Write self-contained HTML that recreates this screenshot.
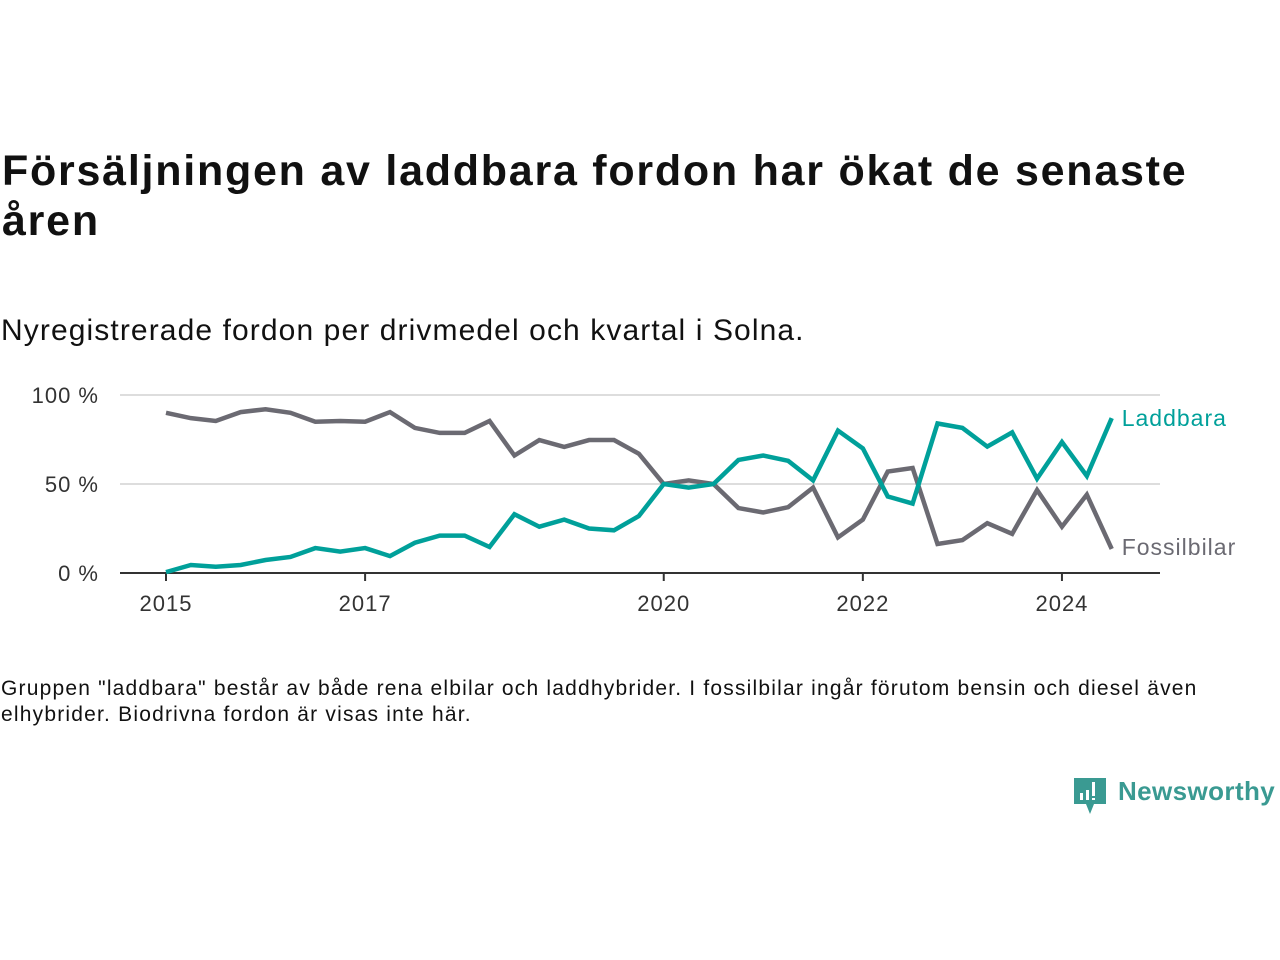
<!DOCTYPE html>
<html><head><meta charset="utf-8">
<style>
body{margin:0;width:1280px;height:960px;background:#fff;position:relative;font-family:"Liberation Sans","DejaVu Sans",sans-serif;color:#111;overflow:hidden}
.t{position:absolute;left:2px;top:146px;font-size:43px;letter-spacing:1.75px;font-weight:bold;line-height:50px;width:1230px;color:#111}
.s{position:absolute;left:1px;top:314px;font-size:30px;letter-spacing:1.1px;color:#111}
.f{position:absolute;left:1px;top:676px;font-size:21px;letter-spacing:1.2px;line-height:26px;width:1230px;color:#111}
svg{position:absolute;left:0;top:0}
</style></head><body>
<div class="t">Försäljningen av laddbara fordon har ökat de senaste åren</div>
<div class="s">Nyregistrerade fordon per drivmedel och kvartal i Solna.</div>
<div class="f">Gruppen "laddbara" består av både rena elbilar och laddhybrider. I fossilbilar ingår förutom bensin och diesel även elhybrider. Biodrivna fordon är visas inte här.</div>
<svg width="1280" height="960" id="c"></svg>
<div style="position:absolute;left:1072px;top:776px;">
<svg width="36" height="40" style="position:absolute;left:0;top:0"><path d="M2 2h32v26H22l-4 10-4-10H2z" fill="#3a9a92"/><rect x="8" y="17" width="3" height="7" fill="#fff"/><rect x="14" y="14" width="3" height="10" fill="#fff"/><rect x="20" y="6" width="3" height="14" fill="#fff"/><rect x="20" y="22" width="3" height="2" fill="#fff"/></svg>
<span style="position:absolute;left:46px;top:0px;font-size:26px;letter-spacing:0.4px;font-weight:bold;color:#3a9a92;white-space:nowrap">Newsworthy</span></div>
<script>
const quarters=["2015Q1","2015Q2","2015Q3","2015Q4","2016Q1","2016Q2","2016Q3","2016Q4","2017Q1","2017Q2","2017Q3","2017Q4","2018Q1","2018Q2","2018Q3","2018Q4","2019Q1","2019Q2","2019Q3","2019Q4","2020Q1","2020Q2","2020Q3","2020Q4","2021Q1","2021Q2","2021Q3","2021Q4","2022Q1","2022Q2","2022Q3","2022Q4","2023Q1","2023Q2","2023Q3","2023Q4","2024Q1","2024Q2","2024Q3"];
const laddbara=[0.5,4.5,3.5,4.5,7.3,9,14,12,14,9.5,17,21,21,14.6,33,26,30,25,24,32,50,48,50,63.5,66,63,52,80,70,43,39,84,81.5,71,79,53,73.6,54.5,87];
const fossil=[90,87,85.4,90.4,92,90,85,85.4,85,90.4,81.5,78.7,78.7,85.4,66,74.7,70.8,74.7,74.7,67,50,52,50,36.5,34,37,48,20,30,57,59,16.3,18.5,28,22,46.6,26,44,13.5];
const yTicks=[0,50,100];
const yTickLabels=["0 %","50 %","100 %"];
const xTicks=[2015,2017,2020,2022,2024];
const NS="http://www.w3.org/2000/svg",svg=document.getElementById('c');
const x0=166,pxYear=99.55,y0=573,pxPct=1.78;
const xs=i=>x0+i*pxYear/4, xYear=y=>x0+(y-2015)*pxYear, ys=v=>y0-v*pxPct;
function mk(t,a){const e=document.createElementNS(NS,t);for(const k in a)e.setAttribute(k,a[k]);svg.appendChild(e);return e;}
yTicks.forEach((v,i)=>{
 if(v>0){const g=mk('line',{x1:120,x2:1160,y1:ys(v),y2:ys(v),stroke:'#ddd','stroke-width':2});
 
 }
 const t=mk('text',{x:99,y:ys(v)+8,'text-anchor':'end','font-size':22,'letter-spacing':1,fill:'#333','font-family':'Liberation Sans, sans-serif'});t.textContent=yTickLabels[i];
 
 
});
const ax=mk('line',{x1:120,x2:1160,y1:y0,y2:y0,stroke:'#333','stroke-width':2});


xTicks.forEach(yr=>{
 const l=mk('line',{x1:xYear(yr),x2:xYear(yr),y1:y0,y2:y0+8,stroke:'#333','stroke-width':2});
 
 
 const t=mk('text',{x:xYear(yr),y:611,'text-anchor':'middle','font-size':22,'letter-spacing':1,fill:'#333','font-family':'Liberation Sans, sans-serif'});t.textContent=yr;
 
 
});
function series(vals,col,name,label,dy){
 const p=mk('polyline',{points:vals.map((v,i)=>xs(i)+','+ys(v)).join(' '),fill:'none',stroke:col,'stroke-width':4.5,'stroke-linejoin':'miter'});
 
 
 const n=vals.length-1;
 const t=mk('text',{x:xs(n)+10,y:ys(vals[n])+dy,'font-size':23,'letter-spacing':1,fill:col,'font-family':'Liberation Sans, sans-serif'});t.textContent=label;
 
 
}
series(fossil,'#6b6a72','fossilbilar','Fossilbilar',6);
series(laddbara,'#00a09a','laddbara','Laddbara',8);
</script>
</body></html>
